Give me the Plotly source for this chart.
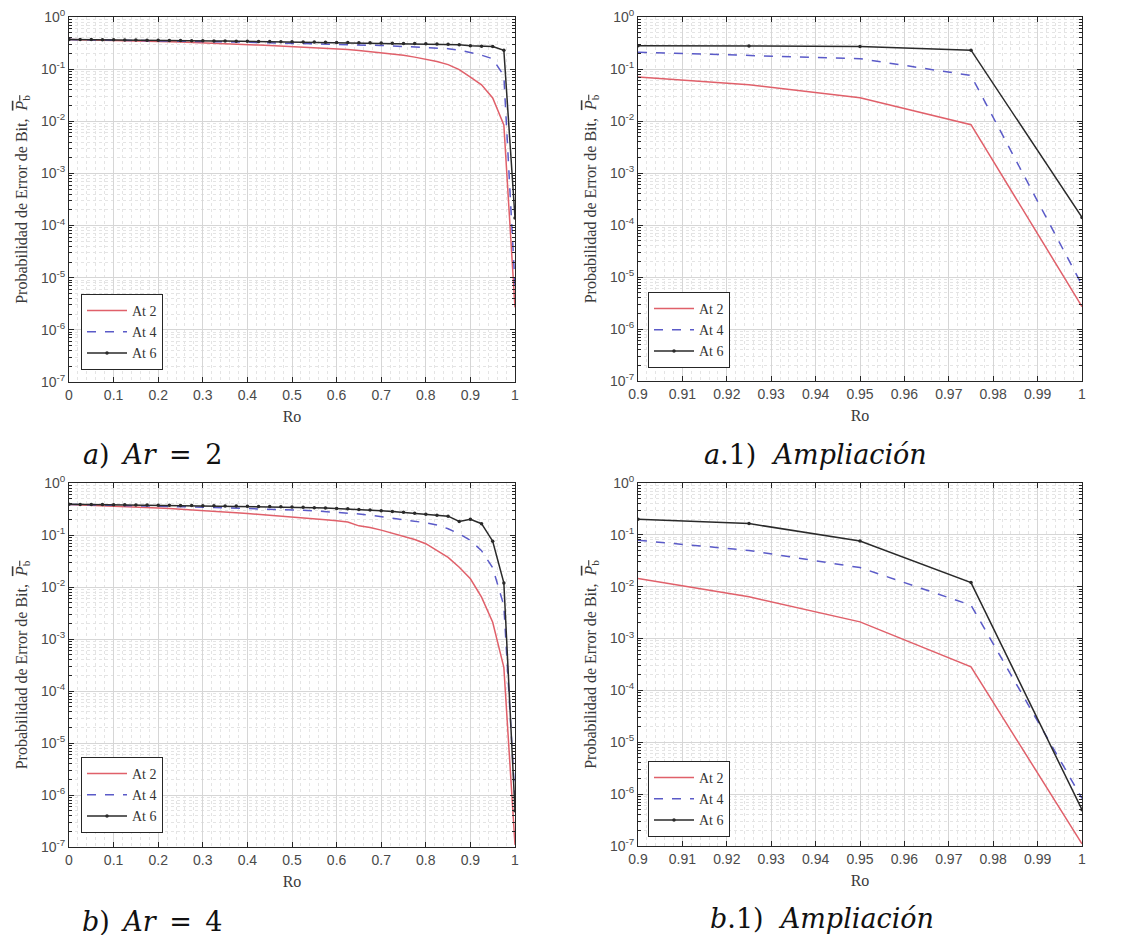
import plotly.graph_objects as go

# ---------------- data ----------------
ro_full = [round(i * 0.025, 3) for i in range(41)]   # 0 .. 1 step 0.025
ro_tick_full = [0, 0.1, 0.2, 0.3, 0.4, 0.5, 0.6, 0.7, 0.8, 0.9, 1]
ro_ticklabels_full = ["0", "0.1", "0.2", "0.3", "0.4", "0.5", "0.6", "0.7", "0.8", "0.9", "1"]
ro_tick_zoom = [0.9, 0.91, 0.92, 0.93, 0.94, 0.95, 0.96, 0.97, 0.98, 0.99, 1]
ro_ticklabels_zoom = ["0.9", "0.91", "0.92", "0.93", "0.94", "0.95", "0.96", "0.97", "0.98", "0.99", "1"]
y_tickvals = [1e-7, 1e-6, 1e-5, 1e-4, 1e-3, 1e-2, 1e-1, 1]
y_ticklabels = ["10<sup>-7</sup>", "10<sup>-6</sup>", "10<sup>-5</sup>", "10<sup>-4</sup>",
                "10<sup>-3</sup>", "10<sup>-2</sup>", "10<sup>-1</sup>", "10<sup>0</sup>"]

series_names = ["At 2", "At 4", "At 6"]

# Ar = 2
ar2_at2 = [0.370, 0.367, 0.364, 0.361, 0.357, 0.353, 0.349, 0.345, 0.340, 0.335,
           0.330, 0.325, 0.319, 0.313, 0.307, 0.301, 0.295, 0.289, 0.283, 0.277,
           0.270, 0.264, 0.258, 0.252, 0.245, 0.238, 0.228, 0.216, 0.205, 0.196,
           0.185, 0.170, 0.155, 0.140, 0.122, 0.098, 0.070, 0.050, 0.028, 0.0085,
           2.7e-6]
ar2_at4 = [0.370, 0.368, 0.366, 0.364, 0.362, 0.360, 0.357, 0.355, 0.352, 0.349,
           0.346, 0.343, 0.340, 0.337, 0.334, 0.331, 0.328, 0.325, 0.322, 0.318,
           0.315, 0.312, 0.308, 0.305, 0.301, 0.297, 0.293, 0.289, 0.284, 0.279,
           0.274, 0.268, 0.262, 0.255, 0.247, 0.232, 0.210, 0.185, 0.158, 0.075,
           7e-6]
ar2_at6 = [0.372, 0.371, 0.370, 0.368, 0.366, 0.364, 0.362, 0.360, 0.358, 0.356,
           0.354, 0.352, 0.350, 0.348, 0.346, 0.344, 0.342, 0.340, 0.338, 0.336,
           0.334, 0.332, 0.330, 0.328, 0.326, 0.324, 0.322, 0.320, 0.318, 0.315,
           0.312, 0.309, 0.306, 0.303, 0.300, 0.295, 0.280, 0.276, 0.272, 0.230,
           1.4e-4]

# Ar = 4
ar4_at2 = [0.385, 0.379, 0.372, 0.365, 0.358, 0.351, 0.344, 0.337, 0.330, 0.322,
           0.314, 0.306, 0.298, 0.289, 0.280, 0.268, 0.259, 0.250, 0.241, 0.232,
           0.222, 0.212, 0.204, 0.196, 0.188, 0.178, 0.150, 0.140, 0.124, 0.108,
           0.094, 0.082, 0.068, 0.050, 0.037, 0.024, 0.0144, 0.0064, 0.0021, 2.85e-4,
           1.1e-7]
ar4_at4 = [0.388, 0.385, 0.382, 0.378, 0.374, 0.370, 0.366, 0.362, 0.358, 0.354,
           0.350, 0.346, 0.342, 0.338, 0.334, 0.330, 0.326, 0.322, 0.317, 0.311,
           0.305, 0.298, 0.291, 0.283, 0.275, 0.265, 0.254, 0.240, 0.226, 0.213,
           0.200, 0.186, 0.172, 0.155, 0.132, 0.105, 0.0786, 0.050, 0.0234, 0.0044,
           8.3e-7]
ar4_at6 = [0.390, 0.388, 0.386, 0.384, 0.382, 0.380, 0.378, 0.376, 0.374, 0.372,
           0.370, 0.368, 0.366, 0.364, 0.362, 0.360, 0.358, 0.355, 0.352, 0.349,
           0.345, 0.341, 0.336, 0.331, 0.325, 0.318, 0.311, 0.302, 0.293, 0.283,
           0.273, 0.262, 0.250, 0.240, 0.230, 0.182, 0.200, 0.165, 0.076, 0.012,
           5e-7]

SP = "\u2002"
captions = ["<i>a</i>)" + SP + "<i>Ar</i>" + SP + "=" + SP + "2",
            "<i>a</i>.1)  <i>Ampliación</i>",
            "<i>b</i>)" + SP + "<i>Ar</i>" + SP + "=" + SP + "4",
            "<i>b</i>.1)  <i>Ampliación</i>"]

# ---------------- styling ----------------
colors = ["#e0606a", "#5a5ac8", "#2a2a2a"]
dashes = ["solid", "dash", "solid"]
W, H = 1135, 935
OFF = 8  # page body margin

panels = [
    ((69, 515), (17, 382), [ar2_at2, ar2_at4, ar2_at6], False),
    ((638, 1082), (17, 381), [ar2_at2, ar2_at4, ar2_at6], True),
    ((69, 515), (483, 847), [ar4_at2, ar4_at4, ar4_at6], False),
    ((638, 1082), (483, 846), [ar4_at2, ar4_at4, ar4_at6], True),
]
legend_pos = [(81, 370), (648, 368), (81, 833), (648, 837)]
caption_pos = [(152, 455), (815, 455), (152, 921), (822, 918)]


def px(x):
    return (x - OFF) / W


def py(y):
    return 1 - (y - OFF) / H


fig = go.Figure()
minor_y = [k * 10.0 ** e for e in range(-7, 0) for k in range(2, 10)]

axis_font = dict(family="Liberation Sans", size=14, color="#4a4a4a")
title_font = dict(family="Liberation Serif", size=16, color="#3a3a3a")

for p, ((x0, x1), (yt, yb), data, zoom) in enumerate(panels):
    sfx = "" if p == 0 else str(p + 1)
    xa, ya = "x" + sfx, "y" + sfx
    leg = "legend" if p == 0 else "legend" + str(p + 1)
    if zoom:
        xs = ro_full[36:]
        ds = [d[36:] for d in data]
    else:
        xs = ro_full
        ds = data
    for i, name in enumerate(series_names):
        fig.add_trace(go.Scatter(
            x=xs, y=ds[i], name=name, xaxis=xa, yaxis=ya, legend=leg,
            mode="lines+markers" if i == 2 else "lines",
            line=dict(color=colors[i], width=1.5, dash=dashes[i]),
            marker=dict(size=3.5, color=colors[i]) if i == 2 else None,
        ))
    xdom = [px(x0), px(x1)]
    ydom = [py(yb), py(yt)]
    xaxis = dict(
        domain=xdom, anchor=ya, automargin=False,
        range=[0.9, 1] if zoom else [0, 1],
        tickmode="array",
        tickvals=ro_tick_zoom if zoom else ro_tick_full,
        ticktext=ro_ticklabels_zoom if zoom else ro_ticklabels_full,
        ticks="inside", ticklen=5, tickcolor="#262626",
        showline=True, linecolor="#262626", linewidth=1, mirror="ticks",
        showgrid=True, gridcolor="#d6d6d6", gridwidth=1,
        minor=dict(dtick=0.002 if zoom else 0.02, tick0=0.9 if zoom else 0,
                   showgrid=True, gridcolor="#e4e4e4", griddash="dot", ticks=""),
        zeroline=False, tickfont=axis_font, ticklabeloverflow="allow",
        title=dict(text="Ro", font=title_font, standoff=9),
    )
    yaxis = dict(
        domain=ydom, anchor=xa, type="log", range=[-7, 0], automargin=False,
        tickmode="array", tickvals=y_tickvals, ticktext=y_ticklabels,
        ticks="inside", ticklen=5, tickcolor="#262626",
        showline=True, linecolor="#262626", linewidth=1, mirror="ticks",
        showgrid=True, gridcolor="#d6d6d6", gridwidth=1,
        minor=dict(tickmode="array", tickvals=minor_y, showgrid=True,
                   gridcolor="#e4e4e4", griddash="dot", ticks="inside",
                   ticklen=3, tickcolor="#262626"),
        zeroline=False, tickfont=axis_font, ticklabeloverflow="allow",
        title=dict(text="Probabilidad de Error de Bit,  "
                        "<span style='text-decoration:overline'><i>P</i><sub>b</sub></span>",
                   font=title_font, standoff=9),
    )
    fig.layout["xaxis" + sfx] = xaxis
    fig.layout["yaxis" + sfx] = yaxis
    lx, lyb = legend_pos[p]
    fig.layout[leg] = dict(
        x=px(lx), y=py(lyb), xanchor="left", yanchor="bottom",
        bgcolor="white", bordercolor="#262626", borderwidth=1,
        font=dict(family="Liberation Serif", size=14, color="#333333"),
        tracegroupgap=0, itemwidth=40, entrywidth=92, entrywidthmode="pixels",
    )
    cx, cy = caption_pos[p]
    fig.add_annotation(
        text=captions[p], xref="paper", yref="paper", x=px(cx), y=py(cy),
        xanchor="center", yanchor="middle", showarrow=False,
        font=dict(family="DejaVu Serif", size=27, color="#111111"),
    )

fig.update_layout(
    width=W, height=H, margin=dict(l=0, r=0, t=0, b=0, autoexpand=False),
    paper_bgcolor="white", plot_bgcolor="white", showlegend=True,
)
fig.write_html("out.html")
